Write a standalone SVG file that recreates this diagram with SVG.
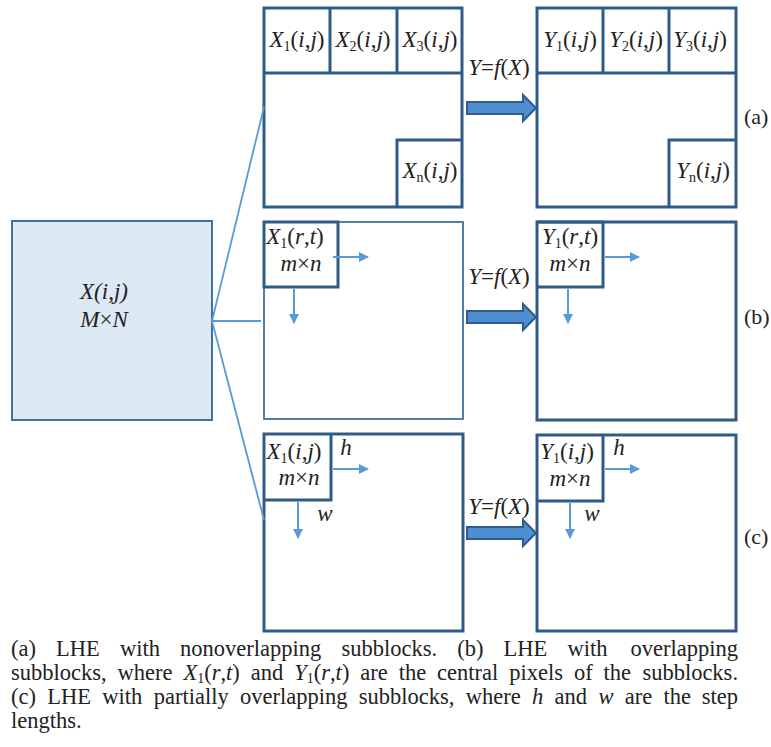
<svg xmlns="http://www.w3.org/2000/svg" width="771" height="747" viewBox="0 0 771 747">
<style>
text{font-family:'Liberation Serif','Times New Roman',serif;fill:#222;}
.lbl{font-size:23px;text-anchor:middle;}
.it{font-style:italic;}
.sub{font-size:14px;}
.box{fill:#fff;stroke:#2f5b88;stroke-width:3;}
.thin{fill:#fff;stroke:#41719c;stroke-width:1.8;}
.div{stroke:#2f5b88;stroke-width:3;fill:none;}
.fan{stroke:#5b9bd5;stroke-width:1.8;fill:none;}
.sa{stroke:#5b9bd5;stroke-width:2;fill:none;}
.big{fill:#4f8ed0;stroke:#2e5d8c;stroke-width:2;}
.cap{font-size:22.5px;}
.end{text-anchor:end;}
.tag{font-size:22px;}
</style>
<defs>
<marker id="ah" viewBox="0 0 10 10" refX="9" refY="5" markerWidth="5" markerHeight="5" orient="auto" markerUnits="strokeWidth">
<path d="M0,0 L10,5 L0,10 z" fill="#5b9bd5"/>
</marker>
</defs>

<g id="source">
<rect x="12" y="221" width="200" height="199" fill="#dde8f5" stroke="#41719c" stroke-width="2"/>
<text class="lbl it" x="104" y="299">X(i,j)</text>
<text class="lbl it" x="104" y="327">M<tspan font-style="normal">×</tspan>N</text>
</g>

<g id="panel-a-input">
<rect class="box" x="264" y="8" width="198" height="199"/>
<line class="div" x1="264" y1="73" x2="462" y2="73"/>
<line class="div" x1="330" y1="8" x2="330" y2="73"/>
<line class="div" x1="397" y1="8" x2="397" y2="73"/>
<path class="div" d="M397,207 V140 H462"/>
<text class="lbl" x="297" y="47"><tspan class="it">X</tspan><tspan class="sub" dy="4">1</tspan><tspan dy="-4">(</tspan><tspan class="it">i</tspan>,<tspan class="it">j</tspan>)</text>
<text class="lbl" x="363" y="47"><tspan class="it">X</tspan><tspan class="sub" dy="4">2</tspan><tspan dy="-4">(</tspan><tspan class="it">i</tspan>,<tspan class="it">j</tspan>)</text>
<text class="lbl" x="430" y="47"><tspan class="it">X</tspan><tspan class="sub" dy="4">3</tspan><tspan dy="-4">(</tspan><tspan class="it">i</tspan>,<tspan class="it">j</tspan>)</text>
<text class="lbl" x="430" y="178"><tspan class="it">X</tspan><tspan class="sub" dy="4">n</tspan><tspan dy="-4">(</tspan><tspan class="it">i</tspan>,<tspan class="it">j</tspan>)</text>
</g>

<g id="panel-a-output">
<rect class="box" x="537" y="8" width="199" height="199"/>
<line class="div" x1="537" y1="73" x2="736" y2="73"/>
<line class="div" x1="603" y1="8" x2="603" y2="73"/>
<line class="div" x1="669" y1="8" x2="669" y2="73"/>
<path class="div" d="M669,207 V140 H736"/>
<text class="lbl" x="570" y="47"><tspan class="it">Y</tspan><tspan class="sub" dy="4">1</tspan><tspan dy="-4">(</tspan><tspan class="it">i</tspan>,<tspan class="it">j</tspan>)</text>
<text class="lbl" x="636" y="47"><tspan class="it">Y</tspan><tspan class="sub" dy="4">2</tspan><tspan dy="-4">(</tspan><tspan class="it">i</tspan>,<tspan class="it">j</tspan>)</text>
<text class="lbl" x="700" y="47"><tspan class="it">Y</tspan><tspan class="sub" dy="4">3</tspan><tspan dy="-4">(</tspan><tspan class="it">i</tspan>,<tspan class="it">j</tspan>)</text>
<text class="lbl" x="703" y="178"><tspan class="it">Y</tspan><tspan class="sub" dy="4">n</tspan><tspan dy="-4">(</tspan><tspan class="it">i</tspan>,<tspan class="it">j</tspan>)</text>
</g>
<text class="tag" x="744" y="124">(a)</text>

<g id="panel-b-input">
<rect class="thin" x="264" y="222" width="199" height="197"/>
<path class="div" d="M264,222 H338 V287 H264 Z"/>
<text class="lbl" x="295" y="244"><tspan class="it">X</tspan><tspan class="sub" dy="4">1</tspan><tspan dy="-4">(</tspan><tspan class="it">r</tspan>,<tspan class="it">t</tspan>)</text>
<text class="lbl" x="301" y="271"><tspan class="it">m</tspan>×<tspan class="it">n</tspan></text>
</g>

<g id="panel-b-output">
<rect class="box" x="537" y="222" width="199" height="198"/>
<path class="div" d="M537,222 H603 V287 H537"/>
<text class="lbl" x="570" y="244"><tspan class="it">Y</tspan><tspan class="sub" dy="4">1</tspan><tspan dy="-4">(</tspan><tspan class="it">r</tspan>,<tspan class="it">t</tspan>)</text>
<text class="lbl" x="570" y="271"><tspan class="it">m</tspan>×<tspan class="it">n</tspan></text>
</g>
<text class="tag" x="744" y="324">(b)</text>

<g id="panel-c-input">
<rect class="box" x="264" y="434" width="199" height="197"/>
<path class="div" d="M264,500 H331 V434"/>
<text class="lbl" x="294" y="459"><tspan class="it">X</tspan><tspan class="sub" dy="4">1</tspan><tspan dy="-4">(</tspan><tspan class="it">i</tspan>,<tspan class="it">j</tspan>)</text>
<text class="lbl" x="299" y="485"><tspan class="it">m</tspan>×<tspan class="it">n</tspan></text>
<text class="lbl it" x="346" y="455">h</text>
<text class="lbl it" x="325" y="521">w</text>
</g>

<g id="panel-c-output">
<rect class="box" x="537" y="435" width="199" height="196"/>
<path class="div" d="M537,501 H603 V435"/>
<text class="lbl" x="567" y="459"><tspan class="it">Y</tspan><tspan class="sub" dy="4">1</tspan><tspan dy="-4">(</tspan><tspan class="it">i</tspan>,<tspan class="it">j</tspan>)</text>
<text class="lbl" x="570" y="486"><tspan class="it">m</tspan>×<tspan class="it">n</tspan></text>
<text class="lbl it" x="619" y="455">h</text>
<text class="lbl it" x="592" y="521">w</text>
</g>
<text class="tag" x="744" y="544">(c)</text>

<g id="connectors">
<line class="fan" x1="212" y1="321" x2="264" y2="107"/>
<line class="fan" x1="212" y1="321" x2="261" y2="321"/>
<line class="fan" x1="212" y1="321" x2="264" y2="520"/>
<polygon class="big" points="467,102 523,102 523,95 536,108 523,121 523,114 467,114"/>
<polygon class="big" points="467,311 523,311 523,304 536,317 523,330 523,323 467,323"/>
<polygon class="big" points="467,527 523,527 523,520 536,533 523,546 523,539 467,539"/>
<line class="sa" x1="333" y1="257" x2="368" y2="257" marker-end="url(#ah)"/>
<line class="sa" x1="294" y1="289" x2="294" y2="323" marker-end="url(#ah)"/>
<line class="sa" x1="605" y1="257" x2="639" y2="257" marker-end="url(#ah)"/>
<line class="sa" x1="568" y1="289" x2="568" y2="323" marker-end="url(#ah)"/>
<line class="sa" x1="333" y1="469" x2="368" y2="469" marker-end="url(#ah)"/>
<line class="sa" x1="298" y1="502" x2="298" y2="538" marker-end="url(#ah)"/>
<line class="sa" x1="605" y1="469" x2="639" y2="469" marker-end="url(#ah)"/>
<line class="sa" x1="570" y1="503" x2="570" y2="538" marker-end="url(#ah)"/>
<text class="lbl" x="499" y="75"><tspan class="it">Y</tspan>=<tspan class="it">f</tspan>(<tspan class="it">X</tspan>)</text>
<text class="lbl" x="499" y="284"><tspan class="it">Y</tspan>=<tspan class="it">f</tspan>(<tspan class="it">X</tspan>)</text>
<text class="lbl" x="499" y="514"><tspan class="it">Y</tspan>=<tspan class="it">f</tspan>(<tspan class="it">X</tspan>)</text>
</g>

<g id="caption">
<text class="cap" x="11" y="656" style="word-spacing:14.5px">(a) LHE with nonoverlapping subblocks. (b) LHE with</text>
<text class="cap end" x="738" y="656">overlapping</text>
<text class="cap" x="11" y="680" style="word-spacing:5.3px">subblocks, where <tspan class="it">X</tspan><tspan class="sub" dy="3">1</tspan><tspan dy="-3">(</tspan><tspan class="it">r</tspan>,<tspan class="it">t</tspan>) and <tspan class="it">Y</tspan><tspan class="sub" dy="3">1</tspan><tspan dy="-3">(</tspan><tspan class="it">r</tspan>,<tspan class="it">t</tspan>) are the central pixels of the</text>
<text class="cap end" x="738" y="680">subblocks.</text>
<text class="cap" x="11" y="704" style="word-spacing:5.7px">(c) LHE with partially overlapping subblocks, where <tspan class="it">h</tspan> and <tspan class="it">w</tspan> are the</text>
<text class="cap end" x="738" y="704">step</text>
<text class="cap" x="11" y="728">lengths.</text>
</g>
</svg>
